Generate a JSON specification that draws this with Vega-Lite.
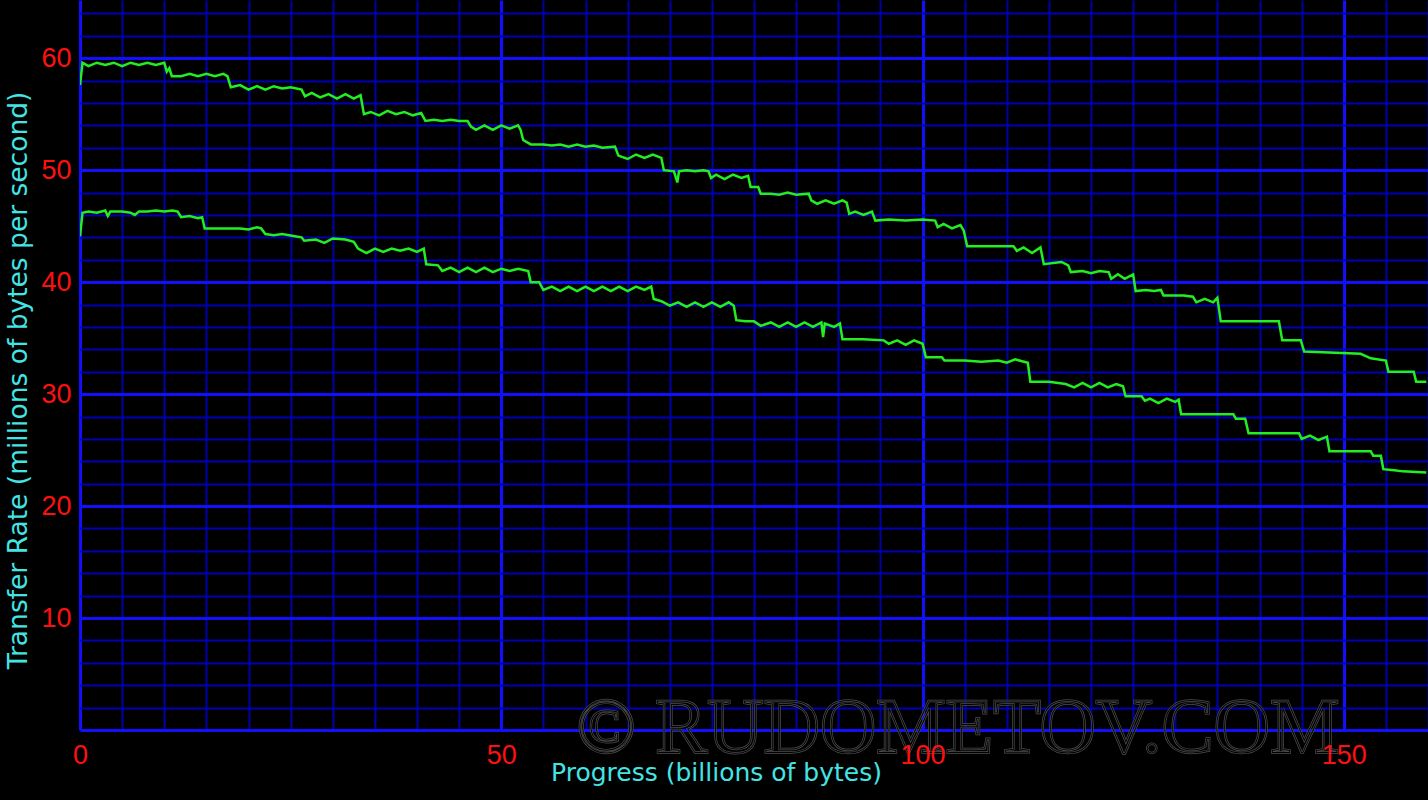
{
  "$schema": "https://vega.github.io/schema/vega-lite/v6.json",
  "width": 1348,
  "height": 730,
  "autosize": {"type": "none"},
  "padding": {"left": 80, "top": 0, "right": 0, "bottom": 70},
  "background": "#000000",
  "view": {"stroke": null},
  "config": {"font": "DejaVu Sans"},
  "datasets": {
    "rates": [
      {"series":"A","progress":0,"rate":57.6},{"series":"A","progress":0.3,"rate":59.6},{"series":"A","progress":1,"rate":59.3},{"series":"A","progress":2,"rate":59.6},{"series":"A","progress":3,"rate":59.4},{"series":"A","progress":4,"rate":59.6},{"series":"A","progress":5,"rate":59.3},{"series":"A","progress":6,"rate":59.6},{"series":"A","progress":7,"rate":59.4},{"series":"A","progress":8,"rate":59.6},{"series":"A","progress":9,"rate":59.4},{"series":"A","progress":10,"rate":59.6},{"series":"A","progress":10.3,"rate":58.8},{"series":"A","progress":10.6,"rate":59.1},{"series":"A","progress":10.9,"rate":58.4},{"series":"A","progress":12,"rate":58.4},{"series":"A","progress":13,"rate":58.6},{"series":"A","progress":14,"rate":58.4},{"series":"A","progress":15,"rate":58.6},{"series":"A","progress":16,"rate":58.4},{"series":"A","progress":17,"rate":58.6},{"series":"A","progress":17.5,"rate":58.4},{"series":"A","progress":17.9,"rate":57.4},{"series":"A","progress":19,"rate":57.6},{"series":"A","progress":20,"rate":57.2},{"series":"A","progress":21,"rate":57.5},{"series":"A","progress":22,"rate":57.2},{"series":"A","progress":23,"rate":57.5},{"series":"A","progress":24,"rate":57.3},{"series":"A","progress":25,"rate":57.4},{"series":"A","progress":26.3,"rate":57.2},{"series":"A","progress":26.7,"rate":56.6},{"series":"A","progress":27.5,"rate":56.9},{"series":"A","progress":28.5,"rate":56.5},{"series":"A","progress":29.5,"rate":56.8},{"series":"A","progress":30.5,"rate":56.4},{"series":"A","progress":31.5,"rate":56.8},{"series":"A","progress":32.5,"rate":56.4},{"series":"A","progress":33.3,"rate":56.7},{"series":"A","progress":33.7,"rate":55.0},{"series":"A","progress":34.5,"rate":55.2},{"series":"A","progress":35.5,"rate":54.9},{"series":"A","progress":36.5,"rate":55.3},{"series":"A","progress":37.5,"rate":55.0},{"series":"A","progress":38.5,"rate":55.2},{"series":"A","progress":39.5,"rate":54.9},{"series":"A","progress":40.5,"rate":55.1},{"series":"A","progress":41,"rate":54.4},{"series":"A","progress":42,"rate":54.5},{"series":"A","progress":43,"rate":54.4},{"series":"A","progress":44,"rate":54.5},{"series":"A","progress":45,"rate":54.4},{"series":"A","progress":46,"rate":54.4},{"series":"A","progress":46.4,"rate":53.9},{"series":"A","progress":47,"rate":53.6},{"series":"A","progress":48,"rate":54.0},{"series":"A","progress":49,"rate":53.6},{"series":"A","progress":50,"rate":54.0},{"series":"A","progress":51,"rate":53.7},{"series":"A","progress":52,"rate":54.0},{"series":"A","progress":52.3,"rate":53.6},{"series":"A","progress":52.6,"rate":52.7},{"series":"A","progress":53.5,"rate":52.3},{"series":"A","progress":55,"rate":52.3},{"series":"A","progress":56,"rate":52.2},{"series":"A","progress":57,"rate":52.3},{"series":"A","progress":58,"rate":52.1},{"series":"A","progress":59,"rate":52.3},{"series":"A","progress":60,"rate":52.1},{"series":"A","progress":61,"rate":52.2},{"series":"A","progress":62,"rate":52.0},{"series":"A","progress":63.5,"rate":52.1},{"series":"A","progress":63.9,"rate":51.3},{"series":"A","progress":65,"rate":51.0},{"series":"A","progress":66,"rate":51.4},{"series":"A","progress":67,"rate":51.1},{"series":"A","progress":68,"rate":51.4},{"series":"A","progress":69,"rate":51.1},{"series":"A","progress":69.3,"rate":50.0},{"series":"A","progress":70.5,"rate":49.9},{"series":"A","progress":70.9,"rate":48.9},{"series":"A","progress":71.1,"rate":49.9},{"series":"A","progress":72,"rate":50.0},{"series":"A","progress":73,"rate":49.9},{"series":"A","progress":74,"rate":50.0},{"series":"A","progress":74.6,"rate":49.9},{"series":"A","progress":74.9,"rate":49.3},{"series":"A","progress":75.5,"rate":49.6},{"series":"A","progress":76.5,"rate":49.2},{"series":"A","progress":77.5,"rate":49.6},{"series":"A","progress":78.5,"rate":49.3},{"series":"A","progress":79.3,"rate":49.5},{"series":"A","progress":79.6,"rate":48.5},{"series":"A","progress":80.5,"rate":48.5},{"series":"A","progress":80.8,"rate":47.9},{"series":"A","progress":82,"rate":47.9},{"series":"A","progress":83,"rate":47.8},{"series":"A","progress":84,"rate":48.0},{"series":"A","progress":85,"rate":47.8},{"series":"A","progress":86.5,"rate":47.9},{"series":"A","progress":86.8,"rate":47.3},{"series":"A","progress":87.5,"rate":47.0},{"series":"A","progress":88.5,"rate":47.3},{"series":"A","progress":89.5,"rate":47.0},{"series":"A","progress":90.5,"rate":47.3},{"series":"A","progress":91,"rate":47.1},{"series":"A","progress":91.3,"rate":46.1},{"series":"A","progress":92,"rate":46.3},{"series":"A","progress":93,"rate":46.0},{"series":"A","progress":94,"rate":46.3},{"series":"A","progress":94.4,"rate":45.5},{"series":"A","progress":96,"rate":45.6},{"series":"A","progress":98,"rate":45.5},{"series":"A","progress":100,"rate":45.6},{"series":"A","progress":101.5,"rate":45.5},{"series":"A","progress":101.8,"rate":44.9},{"series":"A","progress":102.5,"rate":45.2},{"series":"A","progress":103.5,"rate":44.8},{"series":"A","progress":104.5,"rate":45.1},{"series":"A","progress":104.9,"rate":44.6},{"series":"A","progress":105.3,"rate":43.2},{"series":"A","progress":110.8,"rate":43.2},{"series":"A","progress":111.2,"rate":42.8},{"series":"A","progress":112,"rate":43.1},{"series":"A","progress":113,"rate":42.6},{"series":"A","progress":114,"rate":43.1},{"series":"A","progress":114.4,"rate":41.6},{"series":"A","progress":115.5,"rate":41.7},{"series":"A","progress":116.5,"rate":41.8},{"series":"A","progress":117.3,"rate":41.5},{"series":"A","progress":117.6,"rate":40.9},{"series":"A","progress":119,"rate":41.0},{"series":"A","progress":120,"rate":40.8},{"series":"A","progress":121,"rate":41.0},{"series":"A","progress":122.1,"rate":40.9},{"series":"A","progress":122.4,"rate":40.3},{"series":"A","progress":123.2,"rate":40.7},{"series":"A","progress":124,"rate":40.3},{"series":"A","progress":125,"rate":40.7},{"series":"A","progress":125.3,"rate":39.2},{"series":"A","progress":126.5,"rate":39.3},{"series":"A","progress":127.5,"rate":39.2},{"series":"A","progress":128.3,"rate":39.3},{"series":"A","progress":128.6,"rate":38.8},{"series":"A","progress":131,"rate":38.8},{"series":"A","progress":132.1,"rate":38.7},{"series":"A","progress":132.5,"rate":38.2},{"series":"A","progress":133.5,"rate":38.5},{"series":"A","progress":134.5,"rate":38.2},{"series":"A","progress":135,"rate":38.6},{"series":"A","progress":135.4,"rate":36.5},{"series":"A","progress":142.3,"rate":36.5},{"series":"A","progress":142.7,"rate":34.8},{"series":"A","progress":144.9,"rate":34.8},{"series":"A","progress":145.3,"rate":33.8},{"series":"A","progress":152,"rate":33.6},{"series":"A","progress":153.2,"rate":33.2},{"series":"A","progress":155,"rate":33.0},{"series":"A","progress":155.3,"rate":32.0},{"series":"A","progress":158.3,"rate":32.0},{"series":"A","progress":158.6,"rate":31.1},{"series":"A","progress":159.8,"rate":31.1},
      {"series":"B","progress":0,"rate":44.1},{"series":"B","progress":0.3,"rate":46.2},{"series":"B","progress":1,"rate":46.3},{"series":"B","progress":2,"rate":46.2},{"series":"B","progress":3,"rate":46.4},{"series":"B","progress":3.3,"rate":45.9},{"series":"B","progress":3.6,"rate":46.3},{"series":"B","progress":5,"rate":46.3},{"series":"B","progress":6,"rate":46.2},{"series":"B","progress":6.5,"rate":46.0},{"series":"B","progress":7,"rate":46.3},{"series":"B","progress":8,"rate":46.3},{"series":"B","progress":9,"rate":46.4},{"series":"B","progress":10,"rate":46.3},{"series":"B","progress":11,"rate":46.4},{"series":"B","progress":11.6,"rate":46.3},{"series":"B","progress":12,"rate":45.8},{"series":"B","progress":13,"rate":45.9},{"series":"B","progress":14,"rate":45.7},{"series":"B","progress":14.5,"rate":45.8},{"series":"B","progress":14.8,"rate":44.8},{"series":"B","progress":17,"rate":44.8},{"series":"B","progress":19,"rate":44.8},{"series":"B","progress":20,"rate":44.7},{"series":"B","progress":21,"rate":44.9},{"series":"B","progress":21.5,"rate":44.8},{"series":"B","progress":22,"rate":44.3},{"series":"B","progress":23,"rate":44.2},{"series":"B","progress":24,"rate":44.3},{"series":"B","progress":25.5,"rate":44.1},{"series":"B","progress":26.3,"rate":44.0},{"series":"B","progress":26.6,"rate":43.7},{"series":"B","progress":28,"rate":43.8},{"series":"B","progress":29,"rate":43.5},{"series":"B","progress":30,"rate":43.9},{"series":"B","progress":31.5,"rate":43.8},{"series":"B","progress":32.5,"rate":43.6},{"series":"B","progress":33,"rate":43.0},{"series":"B","progress":34,"rate":42.6},{"series":"B","progress":35,"rate":43.0},{"series":"B","progress":36,"rate":42.7},{"series":"B","progress":37,"rate":43.0},{"series":"B","progress":38,"rate":42.8},{"series":"B","progress":39,"rate":43.0},{"series":"B","progress":40,"rate":42.7},{"series":"B","progress":40.8,"rate":43.0},{"series":"B","progress":41.1,"rate":41.6},{"series":"B","progress":42.5,"rate":41.5},{"series":"B","progress":43,"rate":41.0},{"series":"B","progress":44,"rate":41.3},{"series":"B","progress":45,"rate":40.9},{"series":"B","progress":46,"rate":41.3},{"series":"B","progress":47,"rate":40.9},{"series":"B","progress":48,"rate":41.3},{"series":"B","progress":49,"rate":40.9},{"series":"B","progress":50,"rate":41.2},{"series":"B","progress":51,"rate":41.0},{"series":"B","progress":52,"rate":41.2},{"series":"B","progress":53.2,"rate":41.0},{"series":"B","progress":53.5,"rate":40.0},{"series":"B","progress":54.5,"rate":40.0},{"series":"B","progress":55,"rate":39.3},{"series":"B","progress":56,"rate":39.6},{"series":"B","progress":57,"rate":39.2},{"series":"B","progress":58,"rate":39.6},{"series":"B","progress":59,"rate":39.2},{"series":"B","progress":60,"rate":39.6},{"series":"B","progress":61,"rate":39.2},{"series":"B","progress":62,"rate":39.6},{"series":"B","progress":63,"rate":39.2},{"series":"B","progress":64,"rate":39.6},{"series":"B","progress":65,"rate":39.2},{"series":"B","progress":66,"rate":39.6},{"series":"B","progress":67,"rate":39.3},{"series":"B","progress":67.8,"rate":39.6},{"series":"B","progress":68.1,"rate":38.5},{"series":"B","progress":69,"rate":38.3},{"series":"B","progress":70,"rate":37.9},{"series":"B","progress":71,"rate":38.2},{"series":"B","progress":72,"rate":37.8},{"series":"B","progress":73,"rate":38.2},{"series":"B","progress":74,"rate":37.8},{"series":"B","progress":75,"rate":38.2},{"series":"B","progress":76,"rate":37.8},{"series":"B","progress":77,"rate":38.2},{"series":"B","progress":77.6,"rate":37.9},{"series":"B","progress":77.9,"rate":36.6},{"series":"B","progress":79,"rate":36.5},{"series":"B","progress":80,"rate":36.5},{"series":"B","progress":80.8,"rate":36.1},{"series":"B","progress":82,"rate":36.4},{"series":"B","progress":83,"rate":36.0},{"series":"B","progress":84,"rate":36.4},{"series":"B","progress":85,"rate":36.0},{"series":"B","progress":86,"rate":36.4},{"series":"B","progress":87,"rate":36.0},{"series":"B","progress":88,"rate":36.4},{"series":"B","progress":88.2,"rate":35.1},{"series":"B","progress":88.4,"rate":36.3},{"series":"B","progress":89.5,"rate":36.0},{"series":"B","progress":90.2,"rate":36.3},{"series":"B","progress":90.5,"rate":34.9},{"series":"B","progress":93,"rate":34.9},{"series":"B","progress":95.4,"rate":34.8},{"series":"B","progress":96,"rate":34.5},{"series":"B","progress":97,"rate":34.8},{"series":"B","progress":98,"rate":34.4},{"series":"B","progress":99,"rate":34.8},{"series":"B","progress":100,"rate":34.5},{"series":"B","progress":100.4,"rate":33.3},{"series":"B","progress":102.3,"rate":33.3},{"series":"B","progress":102.6,"rate":33.0},{"series":"B","progress":105,"rate":33.0},{"series":"B","progress":107,"rate":32.9},{"series":"B","progress":109,"rate":33.0},{"series":"B","progress":110,"rate":32.8},{"series":"B","progress":111,"rate":33.1},{"series":"B","progress":112.5,"rate":32.8},{"series":"B","progress":112.8,"rate":31.1},{"series":"B","progress":115,"rate":31.1},{"series":"B","progress":117,"rate":30.9},{"series":"B","progress":118,"rate":30.6},{"series":"B","progress":119,"rate":31.0},{"series":"B","progress":120,"rate":30.6},{"series":"B","progress":121,"rate":31.0},{"series":"B","progress":122,"rate":30.6},{"series":"B","progress":123,"rate":30.9},{"series":"B","progress":123.8,"rate":30.7},{"series":"B","progress":124.1,"rate":29.8},{"series":"B","progress":126,"rate":29.8},{"series":"B","progress":126.4,"rate":29.4},{"series":"B","progress":127,"rate":29.6},{"series":"B","progress":128,"rate":29.2},{"series":"B","progress":129,"rate":29.6},{"series":"B","progress":130,"rate":29.3},{"series":"B","progress":130.4,"rate":29.5},{"series":"B","progress":130.7,"rate":28.2},{"series":"B","progress":136.9,"rate":28.2},{"series":"B","progress":137.2,"rate":27.8},{"series":"B","progress":138.3,"rate":27.8},{"series":"B","progress":138.7,"rate":26.5},{"series":"B","progress":144.7,"rate":26.5},{"series":"B","progress":145,"rate":26.0},{"series":"B","progress":146,"rate":26.3},{"series":"B","progress":147,"rate":25.9},{"series":"B","progress":148,"rate":26.2},{"series":"B","progress":148.3,"rate":24.9},{"series":"B","progress":153.2,"rate":24.9},{"series":"B","progress":153.5,"rate":24.5},{"series":"B","progress":154.4,"rate":24.5},{"series":"B","progress":154.7,"rate":23.3},{"series":"B","progress":156,"rate":23.2},{"series":"B","progress":157,"rate":23.1},{"series":"B","progress":159.8,"rate":23.0}
    ]
  },
  "resolve": {"axis": {"x": "independent"}},
  "layer": [
    {
      "data": {"name": "rates"},
      "mark": {"type": "line", "color": "#22ee22", "strokeWidth": 2.5, "clip": true},
      "encoding": {
        "x": {
          "field": "progress",
          "type": "quantitative",
          "scale": {"domain": [0, 160], "nice": false, "zero": false},
          "axis": {
            "orient": "bottom",
            "values": [0,5,10,15,20,25,30,35,40,45,50,55,60,65,70,75,80,85,90,95,100,105,110,115,120,125,130,135,140,145,150,155,160],
            "tickCount": 60,
            "labels": false,
            "title": null,
            "grid": true,
            "gridColor": {"condition": {"test": "datum.value % 50 === 0", "value": "#1010ff"}, "value": "#0000a8"},
            "gridWidth": {"condition": {"test": "datum.value % 50 === 0", "value": 3}, "value": 2},
            "gridOpacity": 1,
            "domain": false,
            "ticks": false,
            "zindex": 0
          }
        },
        "y": {
          "field": "rate",
          "type": "quantitative",
          "scale": {"domain": [0, 65.2], "nice": false, "zero": false},
          "axis": {
            "values": [0,2,4,6,8,10,12,14,16,18,20,22,24,26,28,30,32,34,36,38,40,42,44,46,48,50,52,54,56,58,60,62,64],
            "tickCount": 60,
            "labelExpr": "datum.value % 10 === 0 && datum.value > 0 ? datum.label : ''",
            "labelOverlap": false,
            "labelFlush": false,
            "grid": true,
            "gridColor": {"condition": {"test": "datum.value % 10 === 0", "value": "#1010ff"}, "value": "#0000b8"},
            "gridWidth": {"condition": {"test": "datum.value % 10 === 0", "value": 3}, "value": 2},
            "gridOpacity": 1,
            "domain": false,
            "ticks": false,
            "labelColor": "#ff1010",
            "labelFont": "Liberation Sans",
            "labelFontSize": 27,
            "labelPadding": 9,
            "title": "Transfer Rate (millions of bytes per second)",
            "titleColor": "#44e4e4",
            "titleFont": "DejaVu Sans",
            "titleFontSize": 26.5,
            "titleFontWeight": "normal",
            "titleX": -62,
            "titleY": 380,
            "titleAlign": "center",
            "titleBaseline": "middle",
            "titleAngle": -90
          }
        },
        "detail": {"field": "series", "type": "nominal"}
      }
    },
    {
      "data": {"values": [{"mark": "© RUDOMETOV.COM"}]},
      "mark": {"type": "text", "font": "Liberation Serif", "fontSize": 78, "fill": "transparent", "stroke": "#4e4e4e", "strokeWidth": 2.4, "align": "center", "baseline": "alphabetic"},
      "encoding": {
        "text": {"field": "mark", "type": "nominal"},
        "x": {
          "datum": 104.2,
          "axis": {
            "orient": "bottom",
            "values": [0, 50, 100, 150],
            "tickCount": 60,
            "grid": false,
            "domain": false,
            "ticks": false,
            "labelOverlap": false,
            "labelFlush": false,
            "labelColor": "#ff1010",
            "labelFont": "Liberation Sans",
            "labelFontSize": 27,
            "labelPadding": 12,
            "labelBaseline": "top",
            "title": "Progress (billions of bytes)",
            "titleColor": "#44e4e4",
            "titleFont": "DejaVu Sans",
            "titleFontSize": 25,
            "titleFontWeight": "normal",
            "titleX": 636,
            "titleY": 42,
            "titleAlign": "center",
            "titleBaseline": "middle",
            "zindex": 2
          }
        },
        "y": {"datum": -2}
      }
    },
    {
      "data": {"values": [{"mark": "© RUDOMETOV.COM"}]},
      "mark": {"type": "text", "font": "Liberation Serif", "fontSize": 78, "fill": "transparent", "stroke": "#000000", "strokeWidth": 1, "align": "center", "baseline": "alphabetic"},
      "encoding": {
        "text": {"field": "mark", "type": "nominal"},
        "x": {"datum": 104.2, "axis": null},
        "y": {"datum": -2}
      }
    }
  ]
}
